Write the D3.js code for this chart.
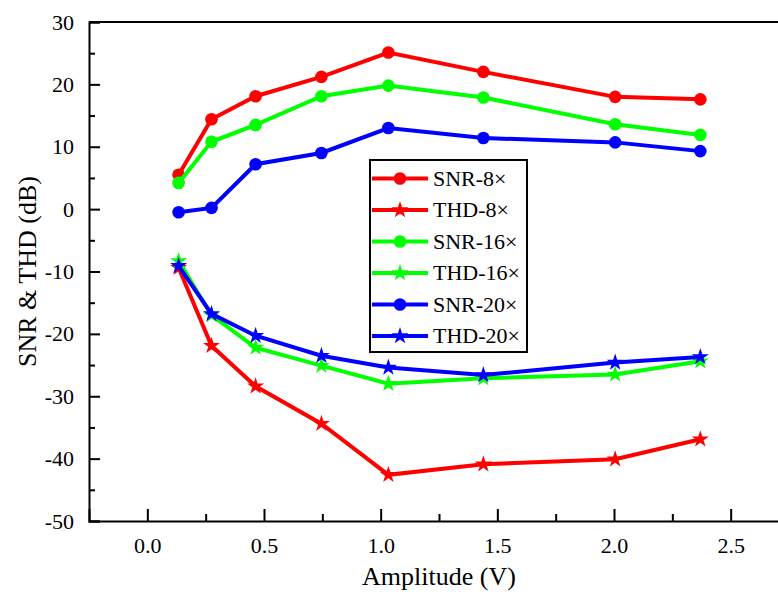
<!DOCTYPE html>
<html>
<head>
    <meta charset="utf-8">
    <title>SNR & THD</title>
</head>
<body style="margin:0; background:#fff">
    <script src="https://cdnjs.cloudflare.com/ajax/libs/d3/7.9.0/d3.min.js"></script>
    <script>
        const width = 778;
        const height = 592;
        const margin = {top: 22, right: -11, bottom: 71, left: 89};
        const serif = "'Liberation Serif'";

        // data
        const amplitude = [0.134, 0.275, 0.464, 0.746, 1.033, 1.44, 2.005, 2.37];
        const snr8  = [5.5, 14.4, 18.1, 21.2, 25.1, 22.0, 18.0, 17.6];
        const thd8  = [-9.4, -21.9, -28.4, -34.4, -42.6, -40.9, -40.1, -36.9];
        const snr16 = [4.2, 10.8, 13.5, 18.1, 19.8, 17.9, 13.6, 11.9];
        const thd16 = [-8.3, -17.0, -22.2, -25.1, -28.0, -27.1, -26.5, -24.4];
        const snr20 = [-0.5, 0.2, 7.2, 9.0, 13.0, 11.4, 10.7, 9.3];
        const thd20 = [-9.1, -16.8, -20.3, -23.5, -25.4, -26.6, -24.6, -23.7];

        const xTicks = [0.0, 0.5, 1.0, 1.5, 2.0, 2.5];
        const yTicks = [-50, -40, -30, -20, -10, 0, 10, 20, 30];

        const series = [
            {name: "SNR-8\u00d7",  values: snr8,  color: "#ff0000", marker: "circle"},
            {name: "THD-8\u00d7",  values: thd8,  color: "#ff0000", marker: "star"},
            {name: "SNR-16\u00d7", values: snr16, color: "#00ff00", marker: "circle"},
            {name: "THD-16\u00d7", values: thd16, color: "#00ff00", marker: "star"},
            {name: "SNR-20\u00d7", values: snr20, color: "#0000ff", marker: "circle"},
            {name: "THD-20\u00d7", values: thd20, color: "#0000ff", marker: "star"}
        ];

        const svg = d3.select("body")
            .append("svg")
            .attr("width", width)
            .attr("height", height);

        const x = d3.scaleLinear()
            .domain([-0.25, 2.75])
            .range([margin.left, width - margin.right]);

        const y = d3.scaleLinear()
            .domain([-50, 30])
            .range([height - margin.bottom, margin.top]);

        const circleSym = d3.symbol().type(d3.symbolCircle).size(125);
        const starSym = d3.symbol().type(d3.symbolStar).size(90);

        // frame
        svg.append("line")
            .attr("x1", x(-0.25)).attr("x2", x(2.75))
            .attr("y1", y(30)).attr("y2", y(30))
            .attr("stroke", "#000").attr("stroke-width", 2);

        // y axis (ticks inward)
        const yAxis = svg.append("g")
            .attr("transform", `translate(${x(-0.25)},0)`)
            .call(d3.axisLeft(y).tickValues(yTicks).tickSize(-11).tickPadding(15).tickFormat(d => String(d)))
            .attr("font-family", null).attr("font-size", null);
        yAxis.select(".domain").attr("stroke-width", 2);
        yAxis.selectAll(".tick line").attr("stroke-width", 2);
        yAxis.selectAll(".tick text")
            .style("font-family", serif).style("font-size", "22px").attr("fill", "#000");

        svg.append("g")
            .attr("transform", `translate(${x(-0.25)},0)`)
            .call(d3.axisLeft(y).tickValues(d3.range(-45, 30, 10)).tickSize(-6).tickFormat(""))
            .call(g => g.select(".domain").remove())
            .selectAll(".tick line").attr("stroke-width", 2);

        // x axis (ticks inward)
        const xAxis = svg.append("g")
            .attr("transform", `translate(0,${y(-50)})`)
            .call(d3.axisBottom(x).tickValues(xTicks).tickSize(-12).tickPadding(16).tickFormat(d => d.toFixed(1)))
            .attr("font-family", null).attr("font-size", null);
        xAxis.select(".domain").attr("stroke-width", 2);
        xAxis.selectAll(".tick line").attr("stroke-width", 2);
        xAxis.selectAll(".tick text")
            .style("font-family", serif).style("font-size", "22px").attr("fill", "#000");

        svg.append("g")
            .attr("transform", `translate(0,${y(-50)})`)
            .call(d3.axisBottom(x).tickValues(d3.range(0.25, 2.75, 0.5)).tickSize(-7).tickFormat(""))
            .call(g => g.select(".domain").remove())
            .selectAll(".tick line").attr("stroke-width", 2);

        // axis titles
        svg.append("text")
            .attr("x", (x(-0.25) + x(2.75)) / 2)
            .attr("y", 585)
            .attr("text-anchor", "middle")
            .style("font-family", serif)
            .style("font-size", "26px")
            .text("Amplitude (V)");

        svg.append("text")
            .attr("transform", `translate(36,${(y(30) + y(-50)) / 2}) rotate(-90)`)
            .attr("text-anchor", "middle")
            .style("font-family", serif)
            .style("font-size", "26px")
            .text("SNR & THD (dB)");

        // series
        const line = d3.line()
            .x((d, i) => x(amplitude[i]))
            .y(d => y(d));

        series.forEach(s => {
            svg.append("path")
                .datum(s.values)
                .attr("fill", "none")
                .attr("stroke", s.color)
                .attr("stroke-width", 4)
                .attr("d", line);

            svg.selectAll(null)
                .data(s.values)
                .enter()
                .append("path")
                .attr("transform", (d, i) => `translate(${x(amplitude[i])},${y(d)})`)
                .attr("d", s.marker === "circle" ? circleSym() : starSym())
                .attr("fill", s.color);
        });

        // legend
        const legend = svg.append("g").attr("transform", "translate(370,160)");
        legend.append("rect")
            .attr("width", 157)
            .attr("height", 192)
            .attr("fill", "#fff")
            .attr("stroke", "#000")
            .attr("stroke-width", 2);

        const rows = legend.selectAll(".row")
            .data(series)
            .enter()
            .append("g")
            .attr("transform", (d, i) => `translate(0,${18.5 + i * 31.5})`);

        rows.append("line")
            .attr("x1", 2).attr("x2", 58)
            .attr("stroke", d => d.color)
            .attr("stroke-width", 4);

        rows.append("path")
            .attr("transform", "translate(30,0)")
            .attr("d", d => d.marker === "circle" ? circleSym() : starSym())
            .attr("fill", d => d.color);

        rows.append("text")
            .attr("x", 63)
            .attr("y", 7)
            .style("font-family", serif)
            .style("font-size", "22px")
            .text(d => d.name);
    </script>
</body>
</html>
